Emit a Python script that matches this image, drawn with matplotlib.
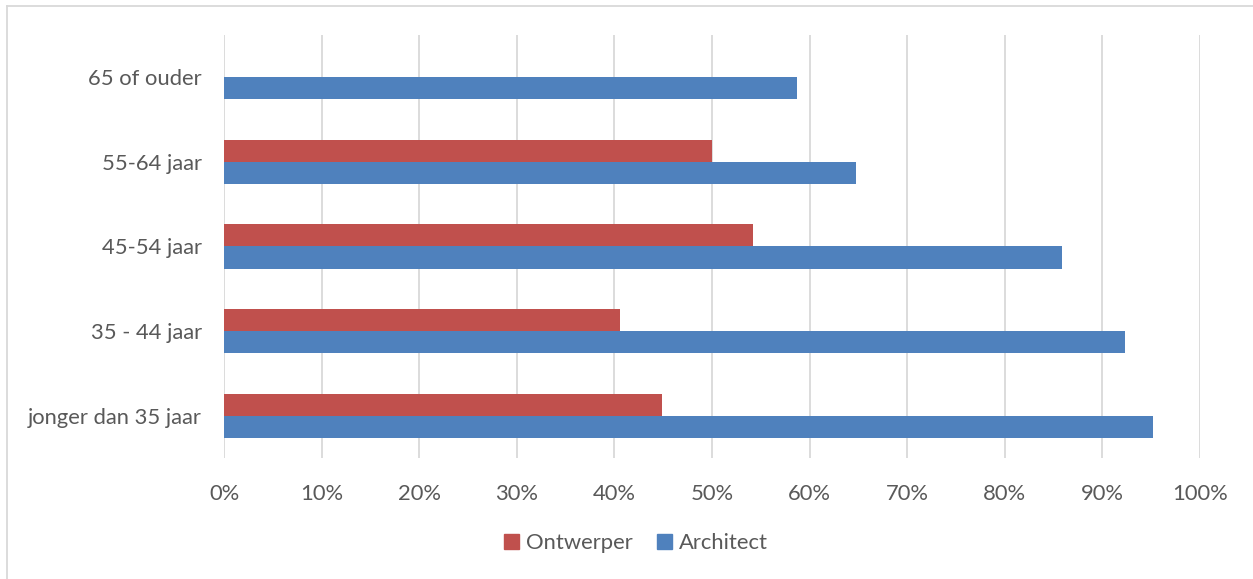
import matplotlib
matplotlib.use("Agg")
import matplotlib.pyplot as plt
from matplotlib.lines import Line2D
import numpy as np

categories = ["jonger dan 35 jaar", "35 - 44 jaar", "45-54 jaar", "55-64 jaar", "65 of ouder"]
ontwerper = [44.9, 40.6, 54.2, 50.0, 0.0]
architect = [95.2, 92.3, 85.9, 64.8, 58.7]
xticks = [0, 10, 20, 30, 40, 50, 60, 70, 80, 90, 100]
xticklabels = [f"{v}%" for v in xticks]

RED = "#C0504D"
BLUE = "#4F81BD"
TXT = "#595959"
GRID = "#D9D9D9"

plt.rcParams["font.family"] = ["Lato", "DejaVu Sans"]

W, H = 1253, 579
fig = plt.figure(figsize=(W / 100, H / 100), dpi=100)
ax = fig.add_axes([224 / W, 1 - 458 / H, (1200 - 224) / W, (458 - 35) / H])

y = np.arange(len(categories))
h = 0.262
ax.barh(y + h / 2, ontwerper, height=h, color=RED, label="Ontwerper", zorder=3)
ax.barh(y - h / 2, architect, height=h, color=BLUE, label="Architect", zorder=3)

ax.set_xlim(0, 100)
ax.set_ylim(-0.5, len(categories) - 0.5)
ax.set_xticks(xticks)
ax.set_xticklabels(xticklabels)
ax.set_yticks(y)
ax.set_yticklabels(categories)
ax.tick_params(axis="both", length=0, colors=TXT, labelsize=15.8)
ax.tick_params(axis="x", pad=19)
ax.tick_params(axis="y", pad=16)
ax.grid(axis="x", color=GRID, linewidth=1.3, zorder=0)
for s in ax.spines.values():
    s.set_visible(False)

handles = [plt.Rectangle((0, 0), 1, 1, color=RED), plt.Rectangle((0, 0), 1, 1, color=BLUE)]
fig.legend(handles, ["Ontwerper", "Architect"], loc="center", bbox_to_anchor=(636 / W, 1 - 543 / H),
           ncol=2, frameon=False, fontsize=15.8, labelcolor=TXT, handlelength=0.7, handleheight=0.7,
           handletextpad=0.3, columnspacing=1.1)

# outer border (top and left visible)
fig.add_artist(Line2D([6.5 / W, 6.5 / W], [0, 1 - 5.5 / H], transform=fig.transFigure, color="#D9D9D9", linewidth=1.3))
fig.add_artist(Line2D([6.5 / W, 1], [1 - 5.5 / H, 1 - 5.5 / H], transform=fig.transFigure, color="#D9D9D9", linewidth=1.3))

fig.savefig("out.png", dpi=100)
